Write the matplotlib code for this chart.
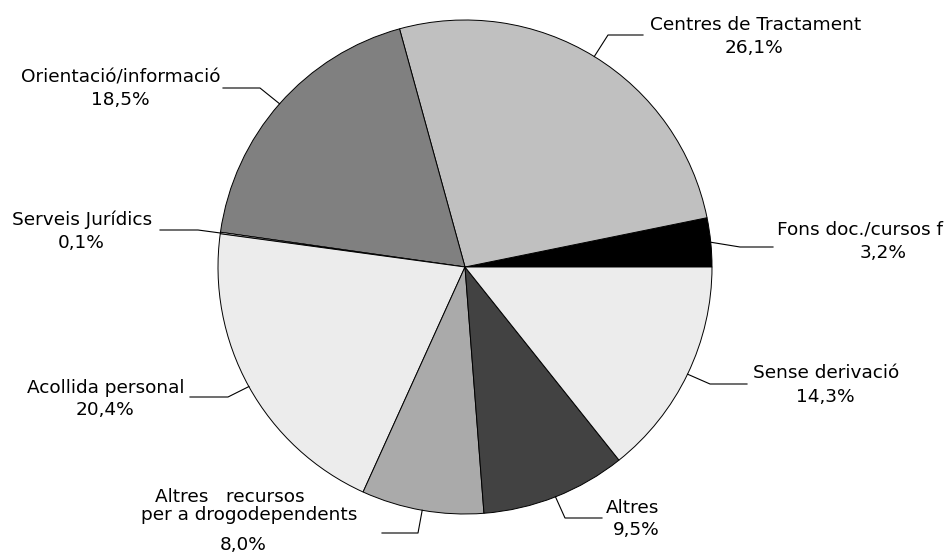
import numpy as np
import matplotlib.pyplot as plt

W, H = 950, 554
plt.rcParams['font.family'] = ['DejaVu Sans']
fontsize = 13.3

labels = ["Fons doc./cursos f", "Centres de Tractament", "Orientació/informació",
          "Serveis Jurídics", "Acollida personal",
          "Altres   recursos\nper a drogodependents", "Altres", "Sense derivació"]
values = [3.2, 26.1, 18.5, 0.1, 20.4, 8.0, 9.5, 14.3]
pct_labels = ["3,2%", "26,1%", "18,5%", "0,1%", "20,4%", "8,0%", "9,5%", "14,3%"]
colors = ["#000000", "#c0c0c0", "#808080", "#ffffff", "#ececec", "#aaaaaa", "#424242", "#ececec"]

# layout in pixel coords (y from top): leader elbow, leader end, name line(s), pct line
elbows = [(740, 247), (608, 35), (260, 88), (198, 230), (228, 397), (418, 533), (565, 518), (710, 384)]
ends = [(773, 247), (643, 35), (223, 88), (160, 230), (190, 397), (382, 533), (602, 518), (747, 384)]
name_pos = [[(777, 230)], [(756, 25)], [(121, 78)], [(82, 220)], [(106, 388)],
            [(230, 497), (249, 515)], [(633, 508)], [(826, 373)]]
pct_pos = [(883, 253), (754, 48), (120, 100), (81, 243), (105, 410), (243, 545), (636, 530), (825, 397)]


def px(p):
    return p[0], H - p[1]


fig = plt.figure(figsize=(W / 100, H / 100), dpi=100)
ax = fig.add_axes([0, 0, 1, 1])
cx, cy, r = 465, H - 267, 247

wedges, _ = ax.pie(values, colors=colors, startangle=0, counterclock=True,
                   center=(cx, cy), radius=r,
                   wedgeprops=dict(edgecolor='black', linewidth=0.7))
ax.set_xlim(0, W)
ax.set_ylim(0, H)
ax.set_aspect('equal')
ax.axis('off')

for i, w in enumerate(wedges):
    mid = np.deg2rad((w.theta1 + w.theta2) / 2)
    sx, sy = cx + r * np.cos(mid), cy + r * np.sin(mid)
    ex, ey = px(elbows[i])
    tx, ty = px(ends[i])
    ax.plot([sx, ex, tx], [sy, ey, ty], color='black', linewidth=0.8)

    for j, line in enumerate(labels[i].split("\n")):
        x, y = px(name_pos[i][j])
        ha = 'left' if i == 0 else 'center'
        ax.text(x, y, line, ha=ha, va='center', fontsize=fontsize)
    x, y = px(pct_pos[i])
    ax.text(x, y, pct_labels[i], ha='center', va='center', fontsize=fontsize)

fig.savefig("out.png", dpi=100)
